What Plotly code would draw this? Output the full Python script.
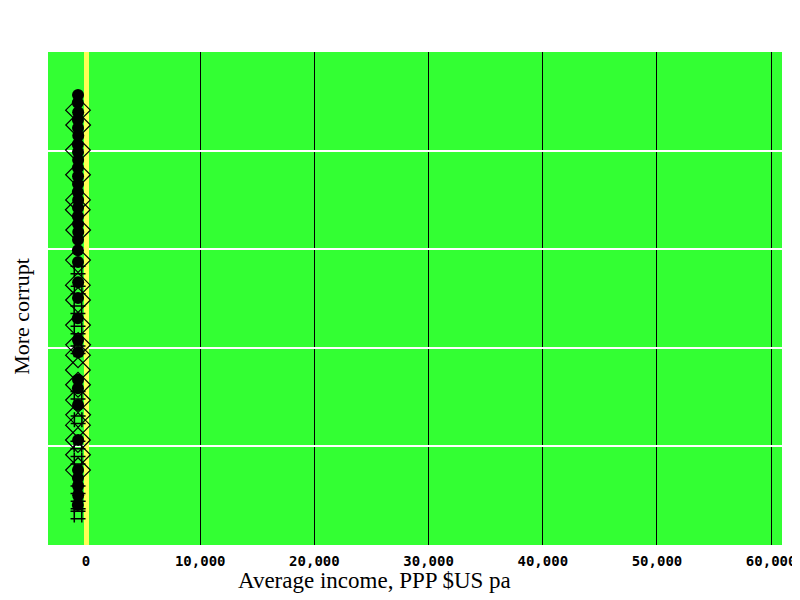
import plotly.graph_objects as go

# Filled circle markers (income, corruption score)
circle_x = [-700, -720, -690, -710, -700, -680, -720, -700, -690, -710, -700, -700,
            -720, -690, -700, -710, -700, -680, -700, -710, -700, -690, -700, -720,
            -700, -690, -700, -710, -700, -690, -700, -710, -700, -690, -720]
circle_y = [9.13, 8.97, 8.78, 8.62, 8.46, 8.30, 8.13, 7.97, 7.81, 7.65, 7.48, 7.32,
            7.16, 7.00, 6.84, 6.67, 6.51, 6.35, 6.19, 5.98, 5.74, 5.33, 5.01, 4.60,
            4.16, 3.91, 3.35, 3.18, 2.84, 2.13, 1.52, 1.36, 1.20, 1.01, 0.81]

# Open diamond markers
diamond_x = [-700, -690, -710, -700, -700, -720, -690, -700, -710, -700, -700,
             -690, -700, -710, -700, -700, -690, -700, -710, -700, -700]
diamond_y = [8.82, 8.52, 8.01, 7.51, 7.00, 6.80, 6.39, 5.78, 5.27, 4.97, 4.46,
             4.06, 3.85, 3.55, 3.25, 2.94, 2.64, 2.43, 2.13, 1.83, 1.52]

# Hash markers
hash_x = [-700, -690, -710, -700, -700, -700, -690, -710, -700, -700, -690, -700]
hash_y = [5.58, 5.17, 4.77, 4.36, 3.96, 3.04, 2.54, 2.03, 1.72, 1.12, 0.81, 0.61]

x_tick_vals = [0, 10000, 20000, 30000, 40000, 50000, 60000]
x_tick_text = ["0", "10,000", "20,000", "30,000", "40,000", "50,000", "60,000"]

x_title = "Average income, PPP $US pa"
y_title = "More corrupt"

fig = go.Figure()
fig.add_trace(go.Scatter(
    x=hash_x, y=hash_y, mode="markers",
    marker=dict(symbol="hash-open", size=15, color="black", line=dict(color="black", width=1.5)),
    showlegend=False))
fig.add_trace(go.Scatter(
    x=diamond_x, y=diamond_y, mode="markers",
    marker=dict(symbol="diamond-open", size=19, color="black", line=dict(color="black", width=1.2)),
    showlegend=False))
fig.add_trace(go.Scatter(
    x=circle_x, y=circle_y, mode="markers",
    marker=dict(symbol="circle", size=12, color="black", line=dict(color="black", width=0)),
    showlegend=False))

fig.update_layout(
    width=792, height=592,
    paper_bgcolor="white", plot_bgcolor="#33ff33",
    margin=dict(l=40, r=18, t=44, b=55, autoexpand=False),
    xaxis=dict(
        range=[-3330, 60950], tickvals=x_tick_vals, ticktext=x_tick_text,
        showgrid=True, gridcolor="black", gridwidth=1,
        zeroline=True, zerolinecolor="#ffff55", zerolinewidth=5,
        ticks="", showline=False, automargin=False, ticklabelstandoff=6,
        tickfont=dict(family="DejaVu Sans Mono", size=14, color="black", weight="bold"),
    ),
    yaxis=dict(
        range=[0, 10], dtick=2, showticklabels=False,
        showgrid=True, gridcolor="white", gridwidth=2,
        zeroline=False, ticks="", showline=False, automargin=False,
    ),
    annotations=[
        dict(text=x_title, xref="paper", yref="paper", x=0.4455, y=-0.071,
             xanchor="center", yanchor="middle", showarrow=False,
             font=dict(family="Liberation Serif", size=23, color="black")),
        dict(text=y_title, xref="paper", yref="paper", x=-0.037, y=0.4645,
             xanchor="center", yanchor="middle", showarrow=False, textangle=-90,
             font=dict(family="Liberation Serif", size=22, color="black")),
    ],
)

fig.write_html("out.html")
